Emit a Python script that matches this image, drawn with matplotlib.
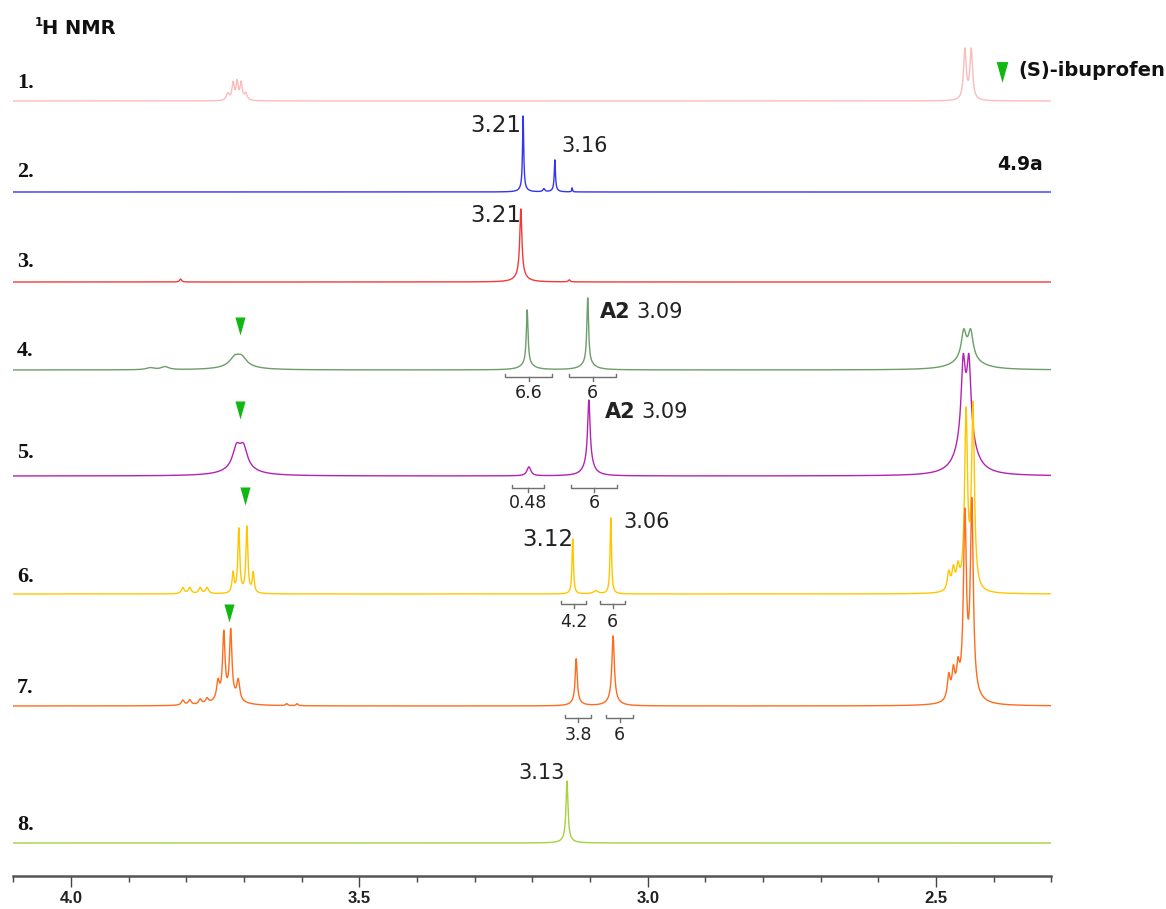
import numpy as np
import matplotlib
matplotlib.use("Agg")
import matplotlib.pyplot as plt
from matplotlib.ticker import FixedLocator, MultipleLocator

# ---------------- data ----------------
spectrum_labels = ["1.", "2.", "3.", "4.", "5.", "6.", "7.", "8."]
line_colors = ["#fbbcbc", "#3434f2", "#f23a3a", "#6b9e6b",
               "#b423b4", "#ffc600", "#ff6c1c", "#a6d23e"]

# peaks: (shift ppm, intensity, half width ppm)
peaks_1 = [(3.728, 7, 0.003), (3.719, 17, 0.0022), (3.712, 18, 0.0022),
           (3.705, 17, 0.0022), (3.697, 7, 0.003),
           (2.450, 50, 0.0028), (2.439, 50, 0.0028)]
peaks_2 = [(3.216, 72, 0.0012), (3.216, 4, 0.006), (3.180, 3, 0.002),
           (3.161, 30, 0.0012), (3.161, 2, 0.005), (3.131, 4, 0.0008)]
peaks_3 = [(3.220, 66, 0.0022), (3.220, 7, 0.01), (3.810, 3, 0.002),
           (3.136, 2, 0.002)]
peaks_4 = [(3.863, 2, 0.008), (3.837, 3, 0.008), (3.716, 8, 0.01),
           (3.704, 8, 0.01), (3.710, 4, 0.03),
           (3.209, 54, 0.0018), (3.209, 6, 0.012),
           (3.104, 65, 0.0018), (3.104, 7, 0.012),
           (2.452, 26, 0.005), (2.440, 26, 0.005), (2.446, 12, 0.025)]
peaks_5 = [(3.713, 20, 0.008), (3.701, 20, 0.008), (3.707, 7, 0.03),
           (3.206, 9, 0.004), (3.102, 62, 0.0025), (3.102, 14, 0.009),
           (2.453, 66, 0.004), (2.443, 66, 0.004), (2.448, 52, 0.015)]
peaks_6 = [(3.806, 6, 0.003), (3.794, 6, 0.003), (3.776, 6, 0.003),
           (3.764, 6, 0.003), (3.719, 20, 0.002), (3.709, 64, 0.002),
           (3.695, 66, 0.002), (3.684, 20, 0.002),
           (3.130, 55, 0.0015), (3.090, 3, 0.005), (3.064, 76, 0.0015),
           (2.478, 18, 0.003), (2.470, 20, 0.003), (2.462, 20, 0.003),
           (2.448, 175, 0.003), (2.436, 182, 0.003)]
peaks_7 = [(3.806, 5, 0.003), (3.794, 5, 0.003), (3.776, 5, 0.003),
           (3.764, 5, 0.003), (3.745, 18, 0.003), (3.735, 64, 0.0025),
           (3.723, 66, 0.0025), (3.710, 20, 0.003), (3.728, 8, 0.02),
           (3.626, 2, 0.002), (3.608, 2, 0.002),
           (3.124, 42, 0.002), (3.124, 5, 0.008),
           (3.060, 64, 0.0025), (3.060, 6, 0.01),
           (2.478, 24, 0.003), (2.470, 26, 0.003), (2.462, 26, 0.003),
           (2.450, 172, 0.003), (2.438, 186, 0.003), (2.445, 14, 0.015)]
peaks_8 = [(3.140, 58, 0.002), (3.140, 4, 0.008)]
all_peaks = [peaks_1, peaks_2, peaks_3, peaks_4, peaks_5, peaks_6, peaks_7, peaks_8]

# integration brackets: (spectrum index, from ppm, to ppm, value text)
integrals = [(3, 3.247, 3.166, "6.6"), (3, 3.136, 3.055, "6"),
             (4, 3.235, 3.180, "0.48"), (4, 3.133, 3.053, "6"),
             (5, 3.150, 3.107, "4.2"), (5, 3.083, 3.039, "6"),
             (6, 3.143, 3.098, "3.8"), (6, 3.072, 3.025, "6")]

# ibuprofen marker positions (spectrum index, ppm)
ibu_marks = [(3, 3.707), (4, 3.707), (5, 3.698), (6, 3.726)]

major_ticks = [4.0, 3.5, 3.0, 2.5]
tick_labels = ["4.0", "3.5", "3.0", "2.5"]

# ---------------- layout ----------------
W, H = 1166, 909
AXY = 876                     # pixel row of the axis line
X0, X1 = 13.3, 1051.4         # pixel columns of 4.1 and 2.3 ppm
baselines_px = [101, 192, 282, 370, 476, 594, 706, 843]
label_y_px = [83, 172, 262, 351, 453, 577, 688, 825]
bracket_y_px = {3: 377, 4: 488, 5: 604, 6: 718}
bracket_lab_px = {3: 393, 4: 503, 5: 622, 6: 735}
mark_y_px = {3: 326, 4: 410, 5: 496, 6: 613}

fig = plt.figure(figsize=(W / 100, H / 100), dpi=100)
ax = fig.add_axes([X0 / W, (H - AXY) / H, (X1 - X0) / W, AXY / H])
ax.set_xlim(4.1, 2.3)
ax.set_ylim(0, AXY)


def yd(ypix):
    return AXY - ypix


x = np.linspace(4.1, 2.3, 9001)
for i, pk in enumerate(all_peaks):
    y = np.zeros_like(x)
    for c, h, w in pk:
        y += h * w * w / ((x - c) ** 2 + w * w)
    ax.plot(x, yd(baselines_px[i]) + y, color=line_colors[i], lw=1.0,
            solid_joinstyle="round")

# integration brackets
for si, a, b, txt in integrals:
    yb = yd(bracket_y_px[si])
    ax.plot([a, a, b, b], [yb + 3, yb, yb, yb + 3], color="#707070", lw=1.0)
    m = (a + b) / 2
    ax.plot([m, m], [yb, yb - 4], color="#707070", lw=1.0)
    ax.text(m, yd(bracket_lab_px[si]), txt, ha="center", va="center",
            fontsize=12.5, color="#222222", family="DejaVu Sans")

# ibuprofen triangle markers
tri = [(-0.28, 0.5), (0.28, 0.5), (0.0, -0.5)]
for si, p in ibu_marks:
    ax.plot([p], [yd(mark_y_px[si])], marker=tri, markersize=13,
            color="#12b812", markeredgewidth=0, linestyle="none")

# axis styling
for s in ("left", "right", "top"):
    ax.spines[s].set_visible(False)
ax.spines["bottom"].set_color("#555555")
ax.spines["bottom"].set_linewidth(1.8)
ax.set_yticks([])
ax.xaxis.set_major_locator(FixedLocator(major_ticks))
ax.xaxis.set_minor_locator(MultipleLocator(0.1))
ax.set_xticklabels(tick_labels, fontsize=12, fontweight="bold",
                   family="Liberation Sans", color="#222222")
ax.tick_params(axis="x", which="major", length=8, width=1.0,
               color="#444444", direction="out", pad=2.5)
ax.tick_params(axis="x", which="minor", length=4.5, width=1.0,
               color="#444444", direction="out")


def ftxt(xp, yp, s, **kw):
    kw.setdefault("va", "center")
    fig.text(xp / W, 1 - yp / H, s, **kw)


# row labels
for lab, yp in zip(spectrum_labels, label_y_px):
    ftxt(17, yp, lab, ha="left", fontsize=16, fontweight="bold",
         family="Liberation Serif", color="#111111")

# title
ftxt(35, 22, "1", ha="left", fontsize=8.5, fontweight="bold",
     family="DejaVu Sans", color="#111111")
ftxt(42, 28, "H NMR", ha="left", fontsize=14, fontweight="bold",
     family="DejaVu Sans", color="#111111")

# legend
fig.add_artist(plt.Line2D([1002 / W], [1 - 72 / H], marker=tri,
                          markersize=15, color="#12b812",
                          markeredgewidth=0, linestyle="none"))
ftxt(1018, 71, "(S)-ibuprofen", ha="left", fontsize=14, fontweight="bold",
     family="DejaVu Sans", color="#111111")
ftxt(1020, 164, "4.9a", ha="center", fontsize=13.5, fontweight="bold",
     family="DejaVu Sans", color="#111111")

# peak annotations
ann = dict(family="DejaVu Sans", color="#222222")
ftxt(496, 126, "3.21", ha="center", fontsize=16.5, **ann)
ftxt(585, 146, "3.16", ha="center", fontsize=15, **ann)
ftxt(496, 216, "3.21", ha="center", fontsize=16.5, **ann)
ftxt(600, 312, "A2", ha="left", fontsize=15, fontweight="bold", **ann)
ftxt(636, 312, "3.09", ha="left", fontsize=15, **ann)
ftxt(605, 412, "A2", ha="left", fontsize=15, fontweight="bold", **ann)
ftxt(641, 412, "3.09", ha="left", fontsize=15, **ann)
ftxt(548, 540, "3.12", ha="center", fontsize=16.5, **ann)
ftxt(647, 522, "3.06", ha="center", fontsize=15, **ann)
ftxt(542, 773, "3.13", ha="center", fontsize=15, **ann)

fig.savefig("out.png", dpi=100)
